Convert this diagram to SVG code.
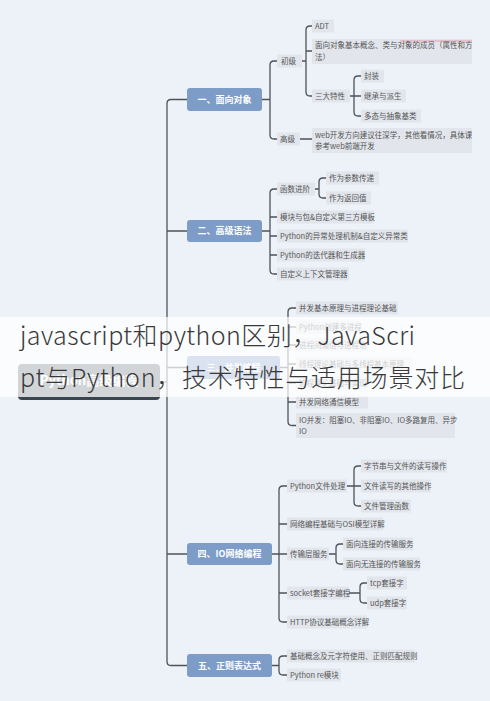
<svg xmlns="http://www.w3.org/2000/svg" width="490" height="701" viewBox="0 0 490 701">
<style>
text{font-family:"Noto Sans CJK SC","Noto Sans",sans-serif}
.ln{stroke:#4d535b;stroke-width:1.3;fill:none}
.mn{fill:#7d9cc8}
.mt{fill:#fff;font-size:9px;font-weight:bold}
.lb{fill:#e2e6ec}
.lt{fill:#555;font-size:7.5px}
.tt{fill:#383838;font-size:25px;font-weight:300}
</style>
<rect x="0" y="0" width="490" height="701" fill="#edf2f8"/>
<g id="connectors">
<path class="ln" d="M160,382 H167 M187,99.5 H171 Q167,99.5 167,103.5 V661.5 Q167,665.5 171,665.5 H187 M167,231 H187 M167,367.5 H187 M167,554 H187"/>
<path class="ln" d="M262,99.5 H270 M277,61 H274 Q270,61 270,65 V135 Q270,139 274,139 H277 M302,61 H306 M312,26 H310 Q306,26 306,30 V92 Q306,96 310,96 H312 M306,51 H312 M350,96 H354 M361,76 H358 Q354,76 354,80 V112 Q354,116 358,116 H361 M354,96 H361 M300,139 H312"/>
<path class="ln" d="M262,231 H270 M277,189 H274 Q270,189 270,193 V270 Q270,274 274,274 H277 M270,217 H277 M270,236 H277 M270,255 H277 M315,189 H319 M326,178 H323 Q319,178 319,182 V194 Q319,198 323,198 H326"/>
<path class="ln" d="M280,367.5 H288 M296,308 H292 Q288,308 288,312 V421.5 Q288,425.5 292,425.5 H296 M288,327 H296 M288,345 H296 M288,364 H296 M288,383 H296 M288,402 H296"/>
<path class="ln" d="M272,554 H279 M287,486 H283 Q279,486 279,490 V618 Q279,622 283,622 H287 M279,524 H287 M279,554 H287 M279,593 H287 M347,486 H354 M361,466 H358 Q354,466 354,470 V502 Q354,506 358,506 H361 M354,486 H361 M329,554 H336 M343,544 H340 Q336,544 336,548 V560 Q336,564 340,564 H343 M349,593 H360 M367,583 H364 Q360,583 360,587 V599 Q360,603 364,603 H367"/>
<path class="ln" d="M272,665.5 H279 M287,656 H283 Q279,656 279,660 V671 Q279,675 283,675 H287"/>
</g>
<g id="root">
<rect x="18" y="366" width="142" height="34" rx="4" fill="#3b4552"/>
<rect x="18" y="364" width="142" height="33" rx="4" fill="#5d6875"/>
<text x="89" y="385" text-anchor="middle" fill="#fff" font-size="13" font-weight="bold">Python高级编程</text>
</g>
<g id="n1"><rect class="mn" x="187" y="88" width="75" height="23" rx="3"/><text class="mt" x="224.5" y="102.8" text-anchor="middle">一、面向对象</text></g>
<g id="n1a"><rect class="lb" x="277" y="54.5" width="25" height="13"/><text class="lt" x="281" y="63.7">初级</text></g>
<g id="n1b"><rect class="lb" x="277" y="132.5" width="23" height="13"/><text class="lt" x="280" y="141.7">高级</text></g>
<g id="n1a1"><rect class="lb" x="312" y="19.5" width="22" height="13"/><text class="lt" x="315" y="28.7">ADT</text></g>
<g id="n1a2"><rect class="lb" x="312" y="39" width="160" height="25"/><line x1="400" y1="41" x2="472" y2="41" stroke="#e79aae" stroke-width="1"/><text class="lt" x="315" y="48">面向对象基本概念、类与对象的成员（属性和方</text><text class="lt" x="315" y="60">法）</text></g>
<g id="n1a3"><rect class="lb" x="312" y="89.5" width="38" height="13"/><text class="lt" x="315" y="98.7">三大特性</text></g>
<g id="n1a3a"><rect class="lb" x="361" y="69.5" width="23" height="13"/><text class="lt" x="364" y="78.7">封装</text></g>
<g id="n1a3b"><rect class="lb" x="361" y="89.5" width="45" height="13"/><text class="lt" x="364" y="98.7">继承与派生</text></g>
<g id="n1a3c"><rect class="lb" x="361" y="109.5" width="60" height="13"/><text class="lt" x="364" y="118.7">多态与抽象基类</text></g>
<g id="n1b1"><rect class="lb" x="312" y="128" width="160" height="25"/><text class="lt" x="315" y="137.5">web开发方向建议往深学，其他看情况，具体课</text><text class="lt" x="315" y="149">参考web前端开发</text></g>
<g id="n2"><rect class="mn" x="187" y="220" width="75" height="22" rx="3"/><text class="mt" x="224.5" y="234.3" text-anchor="middle">二、高级语法</text></g>
<g id="n2a"><rect class="lb" x="277" y="182.5" width="38" height="13"/><text class="lt" x="280" y="191.7">函数进阶</text></g>
<g id="n2a1"><rect class="lb" x="326" y="171.5" width="53" height="13"/><text class="lt" x="329" y="180.7">作为参数传递</text></g>
<g id="n2a2"><rect class="lb" x="326" y="191.5" width="45" height="13"/><text class="lt" x="329" y="200.7">作为返回值</text></g>
<g id="n2b"><rect class="lb" x="277" y="210.5" width="97" height="13"/><text class="lt" x="280" y="219.7">模块与包&amp;自定义第三方模板</text></g>
<g id="n2c"><rect class="lb" x="277" y="229.5" width="131" height="13"/><text class="lt" x="280" y="238.7">Python的异常处理机制&amp;自定义异常类</text></g>
<g id="n2d"><rect class="lb" x="277" y="248.5" width="88" height="13"/><text class="lt" x="280" y="257.7">Python的迭代器和生成器</text></g>
<g id="n2e"><rect class="lb" x="277" y="267.5" width="72" height="13"/><text class="lt" x="280" y="276.7">自定义上下文管理器</text></g>
<g id="n3"><rect class="mn" x="187" y="356" width="93" height="23" rx="3"/><text class="mt" x="233.5" y="370.8" text-anchor="middle">三、并发编程</text></g>
<g id="n3a"><rect class="lb" x="296" y="301.5" width="102" height="13"/><text class="lt" x="299" y="310.7">并发基本原理与进程理论基础</text></g>
<g id="n3b"><rect class="lb" x="296" y="320.5" width="64" height="13"/><text class="lt" x="299" y="329.7">Python创建多进程</text></g>
<g id="n3c"><rect class="lb" x="296" y="338.5" width="72" height="13"/><text class="lt" x="299" y="347.7">进程间通信与进程池</text></g>
<g id="n3d"><rect class="lb" x="296" y="357.5" width="117" height="13"/><text class="lt" x="299" y="366.7">线程理论基础与多线程基本原理</text></g>
<g id="n3e"><rect class="lb" x="296" y="376.5" width="72" height="13"/><text class="lt" x="299" y="385.7">协程理论基础与实现</text></g>
<g id="n3f"><rect class="lb" x="296" y="395.5" width="72" height="13"/><text class="lt" x="299" y="404.7">并发网络通信模型</text></g>
<g id="n3g"><rect class="lb" x="296" y="413" width="159" height="25"/><text class="lt" x="299" y="422.5">IO并发：阻塞IO、非阻塞IO、IO多路复用、异步</text><text class="lt" x="299" y="434">IO</text></g>
<g id="n4"><rect class="mn" x="187" y="543" width="85" height="22" rx="3"/><text class="mt" x="229.5" y="557.3" text-anchor="middle">四、IO网络编程</text></g>
<g id="n4a"><rect class="lb" x="287" y="479.5" width="60" height="13"/><text class="lt" x="290" y="488.7">Python文件处理</text></g>
<g id="n4a1"><rect class="lb" x="361" y="459.5" width="86" height="13"/><text class="lt" x="364" y="468.7">字节串与文件的读写操作</text></g>
<g id="n4a2"><rect class="lb" x="361" y="479.5" width="70" height="13"/><text class="lt" x="364" y="488.7">文件读写的其他操作</text></g>
<g id="n4a3"><rect class="lb" x="361" y="499.5" width="50" height="13"/><text class="lt" x="364" y="508.7">文件管理函数</text></g>
<g id="n4b"><rect class="lb" x="287" y="517.5" width="96" height="13"/><text class="lt" x="290" y="526.7">网络编程基础与OSI模型详解</text></g>
<g id="n4c"><rect class="lb" x="287" y="547.5" width="42" height="13"/><text class="lt" x="290" y="556.7">传输层服务</text></g>
<g id="n4c1"><rect class="lb" x="343" y="537.5" width="70" height="13"/><text class="lt" x="346" y="546.7">面向连接的传输服务</text></g>
<g id="n4c2"><rect class="lb" x="343" y="557.5" width="77" height="13"/><text class="lt" x="346" y="566.7">面向无连接的传输服务</text></g>
<g id="n4d"><rect class="lb" x="287" y="586.5" width="62" height="13"/><text class="lt" x="290" y="595.7">socket套接字编程</text></g>
<g id="n4d1"><rect class="lb" x="367" y="576.5" width="40" height="13"/><text class="lt" x="370" y="585.7">tcp套接字</text></g>
<g id="n4d2"><rect class="lb" x="367" y="596.5" width="40" height="13"/><text class="lt" x="370" y="605.7">udp套接字</text></g>
<g id="n4e"><rect class="lb" x="287" y="615.5" width="80" height="13"/><text class="lt" x="290" y="624.7">HTTP协议基础概念详解</text></g>
<g id="n5"><rect class="mn" x="187" y="654" width="85" height="23" rx="3"/><text class="mt" x="229.5" y="668.8" text-anchor="middle">五、正则表达式</text></g>
<g id="n5a"><rect class="lb" x="287" y="649.5" width="128" height="13"/><text class="lt" x="290" y="658.7">基础概念及元字符使用、正则匹配规则</text></g>
<g id="n5b"><rect class="lb" x="287" y="668.5" width="54" height="13"/><text class="lt" x="290" y="677.7">Python re模块</text></g>
<g id="overlay">
<rect x="0" y="317" width="490" height="80" fill="#fff" opacity="0.72"/>
<text class="tt" x="20" y="345" textLength="395" lengthAdjust="spacing">javascript和python区别，JavaScri</text>
<text class="tt" x="20" y="387" textLength="445" lengthAdjust="spacing">pt与Python，技术特性与适用场景对比</text>
</g>
</svg>
